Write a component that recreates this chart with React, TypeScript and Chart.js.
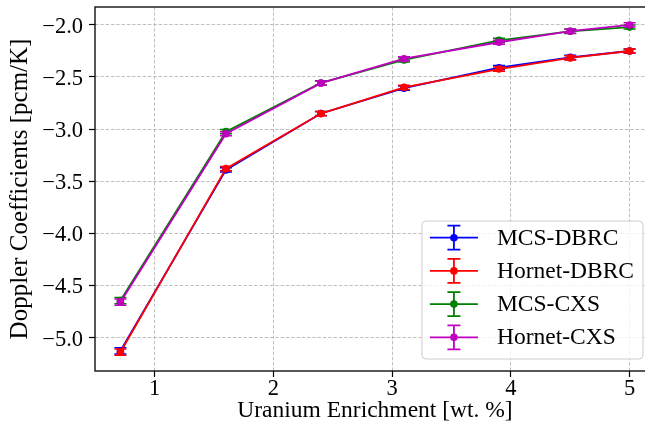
import { useEffect, useRef } from "react";
import { Chart, registerables } from "chart.js";

Chart.register(...registerables);

// Uranium enrichment (wt. %) for each calculated case
const enrichment = [0.711, 1.6, 2.4, 3.1, 3.9, 4.5, 5.0];

// Doppler coefficients (pcm/K) per method
const mcsDbrc = [-5.128, -3.392, -2.851, -2.608, -2.412, -2.313, -2.252];
const hornetDbrc = [-5.14, -3.38, -2.852, -2.6, -2.425, -2.318, -2.252];
const mcsCxs = [-4.645, -3.025, -2.558, -2.338, -2.15, -2.063, -2.022];
const hornetCxs = [-4.66, -3.045, -2.56, -2.326, -2.168, -2.062, -2.002];

// One-sigma uncertainties (pcm/K)
const mcsDbrcErr = [0.03, 0.02, 0.02, 0.02, 0.02, 0.02, 0.02];
const hornetDbrcErr = [0.03, 0.02, 0.02, 0.02, 0.02, 0.02, 0.02];
const mcsCxsErr = [0.03, 0.02, 0.02, 0.02, 0.02, 0.02, 0.02];
const hornetCxsErr = [0.03, 0.02, 0.02, 0.02, 0.02, 0.02, 0.02];

const seriesLabels = ["MCS-DBRC", "Hornet-DBRC", "MCS-CXS", "Hornet-CXS"];
const seriesValues = [mcsDbrc, hornetDbrc, mcsCxs, hornetCxs];
const seriesErrors = [mcsDbrcErr, hornetDbrcErr, mcsCxsErr, hornetCxsErr];
const seriesColors = ["#0000ff", "#ff0000", "#008000", "#bf00bf"];

const xTicks = [1, 2, 3, 4, 5];
const yTicks = [-5.0, -4.5, -4.0, -3.5, -3.0, -2.5, -2.0];

const FONT = "'Liberation Serif', 'Times New Roman', serif";
const TICK_SIZE = 22.5;
const XLABEL_SIZE = 23.5;
const YLABEL_SIZE = 25;
const LEGEND_SIZE = 23.5;

const fmtY = (v: number) => (v < 0 ? "\u2212" : "") + Math.abs(v).toFixed(1);

const zeroPadding = (s: any) => {
  s.paddingLeft = 0;
  s.paddingRight = 0;
  s.paddingTop = 0;
  s.paddingBottom = 0;
};

// Vertical error bars with caps, drawn right after each dataset
const errorBarPlugin = {
  id: "errorBars",
  afterDatasetDraw(chart: any, args: any) {
    const i = args.index;
    const errs = seriesErrors[i];
    const vals = seriesValues[i];
    if (!errs) return;
    const { ctx } = chart;
    const xs = chart.scales.x;
    const ys = chart.scales.y;
    ctx.save();
    ctx.strokeStyle = seriesColors[i];
    ctx.lineWidth = 1.5;
    const cap = 6;
    vals.forEach((v: number, k: number) => {
      const px = xs.getPixelForValue(enrichment[k]);
      const y0 = ys.getPixelForValue(v - errs[k]);
      const y1 = ys.getPixelForValue(v + errs[k]);
      ctx.beginPath();
      ctx.moveTo(px, y0);
      ctx.lineTo(px, y1);
      ctx.moveTo(px - cap, y0);
      ctx.lineTo(px + cap, y0);
      ctx.moveTo(px - cap, y1);
      ctx.lineTo(px + cap, y1);
      ctx.stroke();
    });
    ctx.restore();
  },
};

// Axes frame and the in-plot legend
const framePlugin = {
  id: "frameAndLegend",
  afterDraw(chart: any) {
    const { ctx, chartArea: ca } = chart;
    ctx.save();
    ctx.strokeStyle = "#111";
    ctx.lineWidth = 1.4;
    ctx.strokeRect(ca.left, ca.top, ca.right - ca.left, ca.bottom - ca.top);

    ctx.font = `${LEGEND_SIZE}px ${FONT}`;
    const textW = Math.max(...seriesLabels.map((l) => ctx.measureText(l).width));
    const handleStart = 8;
    const handleLen = 48;
    const textGap = 19;
    const padR = 9;
    const rowH = 33.2;
    const w = handleStart + handleLen + textGap + textW + padR;
    const h = 138;
    const right = ca.right - 12;
    const bottom = ca.bottom - 12;
    const left = right - w;
    const top = bottom - h;

    ctx.beginPath();
    ctx.roundRect(left, top, w, h, 4);
    ctx.fillStyle = "rgba(255,255,255,0.8)";
    ctx.fill();
    ctx.strokeStyle = "#cccccc";
    ctx.lineWidth = 1;
    ctx.stroke();

    seriesLabels.forEach((label, i) => {
      const y = top + 16.7 + i * rowH;
      const x0 = left + handleStart;
      const xc = x0 + handleLen / 2;
      ctx.strokeStyle = seriesColors[i];
      ctx.fillStyle = seriesColors[i];
      ctx.lineWidth = 1.8;
      ctx.beginPath();
      ctx.moveTo(x0, y);
      ctx.lineTo(x0 + handleLen, y);
      ctx.moveTo(xc, y - 12);
      ctx.lineTo(xc, y + 12);
      ctx.moveTo(xc - 6.5, y - 12);
      ctx.lineTo(xc + 6.5, y - 12);
      ctx.moveTo(xc - 6.5, y + 12);
      ctx.lineTo(xc + 6.5, y + 12);
      ctx.stroke();
      ctx.beginPath();
      ctx.arc(xc, y, 3.8, 0, Math.PI * 2);
      ctx.fill();

      ctx.fillStyle = "#000";
      ctx.textBaseline = "middle";
      ctx.textAlign = "left";
      ctx.fillText(label, x0 + handleLen + textGap, y + 1);
    });
    ctx.restore();
  },
};

export default function App() {
  const ref = useRef<HTMLCanvasElement | null>(null);

  useEffect(() => {
    if (!ref.current) return;
    const datasets = seriesLabels.map((label, i) => ({
      label,
      data: seriesValues[i].map((v, k) => ({ x: enrichment[k], y: v })),
      borderColor: seriesColors[i],
      backgroundColor: seriesColors[i],
      borderWidth: 1.8,
      pointRadius: 3.8,
      pointBorderWidth: 0,
      pointHoverRadius: 3.8,
      tension: 0,
      order: seriesLabels.length - i,
    }));

    const gridCommon = {
      color: "#b0b0b0",
      lineWidth: 0.8,
      tickColor: "#000",
      tickLength: 6,
      tickWidth: 1.2,
    };

    const chart = new Chart(ref.current, {
      type: "line",
      data: { datasets },
      options: {
        animation: false,
        responsive: false,
        devicePixelRatio: 1,
        layout: { padding: { left: 0, top: 7, right: 5, bottom: 0 } },
        plugins: { legend: { display: false }, tooltip: { enabled: false } },
        scales: {
          x: {
            type: "linear",
            min: 0.497,
            max: 5.214,
            afterBuildTicks: (s: any) => {
              s.ticks = xTicks.map((v) => ({ value: v }));
            },
            afterFit: (s: any) => {
              s.height = 67;
              zeroPadding(s);
            },
            ticks: {
              color: "#000",
              font: { family: FONT, size: TICK_SIZE, lineHeight: 1 },
              padding: 1,
              maxRotation: 0,
              autoSkip: false,
              callback: (v: any) => String(v),
            },
            grid: gridCommon,
            border: { display: false, dash: [3.5, 1.8] },
            title: {
              display: true,
              text: "Uranium Enrichment [wt. %]",
              color: "#000",
              font: { family: FONT, size: XLABEL_SIZE, lineHeight: 1.2 },
              padding: { top: 0, bottom: 13 },
            },
          },
          y: {
            type: "linear",
            min: -5.32,
            max: -1.83,
            afterBuildTicks: (s: any) => {
              s.ticks = yTicks.map((v) => ({ value: v }));
            },
            afterFit: (s: any) => {
              s.width = 95;
              zeroPadding(s);
            },
            ticks: {
              color: "#000",
              font: { family: FONT, size: TICK_SIZE, lineHeight: 1 },
              padding: 6,
              labelOffset: 2,
              callback: (v: any) => fmtY(Number(v)),
            },
            grid: gridCommon,
            border: { display: false, dash: [3.5, 1.8] },
            title: {
              display: true,
              text: "Doppler Coefficients [pcm/K]",
              color: "#000",
              font: { family: FONT, size: YLABEL_SIZE, lineHeight: 1.2 },
              padding: { top: 5, bottom: 0 },
            },
          },
        },
      },
      plugins: [errorBarPlugin, framePlugin],
    } as any);

    return () => chart.destroy();
  }, []);

  return (
    <div
      style={{
        position: "fixed",
        left: 0,
        top: 0,
        width: 645,
        height: 438,
        overflow: "hidden",
        background: "#fff",
      }}
    >
      <canvas
        ref={ref}
        width={660}
        height={438}
        style={{ display: "block", width: 660, height: 438 }}
      />
    </div>
  );
}
